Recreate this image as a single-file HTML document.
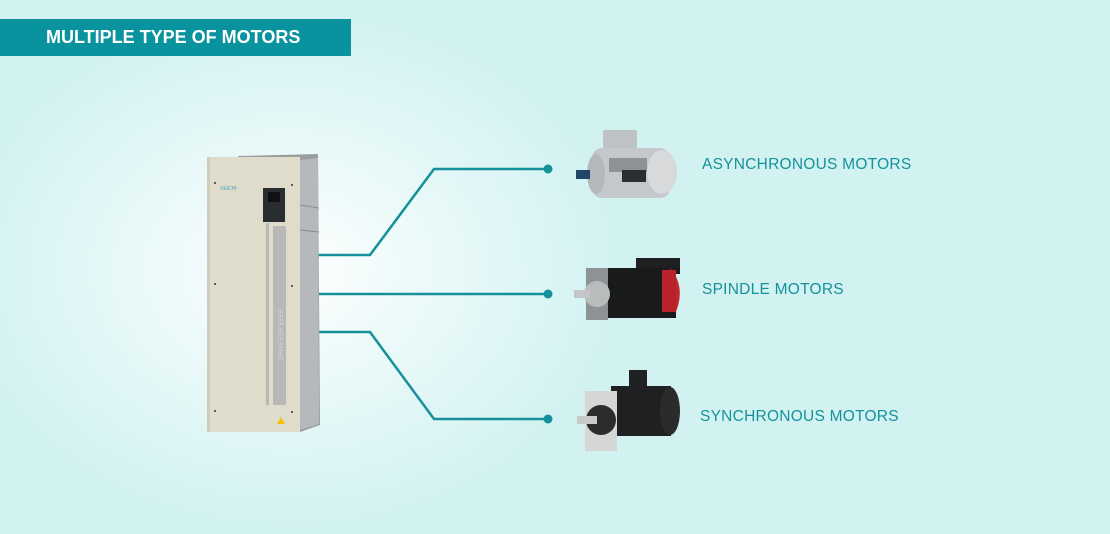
<!DOCTYPE html>
<html><head><meta charset="utf-8"><style>
html,body{margin:0;padding:0}
body{width:1110px;height:534px;overflow:hidden;position:relative;background:#d2f2f2;font-family:"Liberation Sans",sans-serif}
.glow{position:absolute;left:0;top:0;width:1110px;height:534px;background:radial-gradient(ellipse 330px 260px at 290px 270px,#ffffff 0%,#eefafa 35%,rgba(210,242,242,0) 100%)}
.banner{position:absolute;left:0;top:19px;width:351px;height:37px;background:#08939e;color:#fff;font-weight:bold;font-size:18px;line-height:37px;padding-left:46px;box-sizing:border-box;letter-spacing:0}
.lbl{position:absolute;color:#14929c;font-size:15.5px;letter-spacing:0.25px}
svg{position:absolute;left:0;top:0}
</style></head><body>
<div class="glow"></div>
<div class="banner">MULTIPLE TYPE OF MOTORS</div>
<svg width="1110" height="534">
<g stroke="#16909a" stroke-width="2.5" fill="none">
<polyline points="318,255 370,255 434,169 548,169"/>
<polyline points="318,294 548,294"/>
<polyline points="318,332 370,332 434,419 548,419"/>
</g>
<g fill="#16909a"><circle cx="548" cy="169" r="4.5"/><circle cx="548" cy="294" r="4.5"/><circle cx="548" cy="419" r="4.5"/></g>
<polygon points="238,156 318,154 320,425 300,432" fill="#9a9c9e"/>
<polygon points="300,160 318,158 319,424 300,430" fill="#b6b9bb"/>
<line x1="300" y1="205" x2="319" y2="208" stroke="#8b8e90"/>
<line x1="300" y1="230" x2="319" y2="232" stroke="#8b8e90"/>
<rect x="207" y="157" width="93" height="275" fill="#e0dccb"/>
<rect x="207" y="157" width="3" height="275" fill="#d1cdb9"/>
<text x="220" y="190" font-size="5" fill="#3ca7c4" font-family="Liberation Sans">VEICHI</text>
<rect x="263" y="188" width="22" height="34" fill="#2a2d30"/>
<rect x="268" y="192" width="12" height="10" fill="#101214"/>
<rect x="266" y="223" width="3" height="182" fill="#b8b8b6"/>
<rect x="273" y="226" width="13" height="179" fill="#b8b8b6"/>
<text x="283" y="360" font-size="6" fill="#d8d8d6" transform="rotate(-90 283 360)">DRIVE FOR EVER</text>
<polygon points="277,424 281,417 285,424" fill="#f2c400"/>
<g fill="#333"><circle cx="215" cy="183" r="1"/><circle cx="292" cy="185" r="1"/><circle cx="215" cy="284" r="1"/><circle cx="292" cy="286" r="1"/><circle cx="215" cy="411" r="1"/><circle cx="292" cy="412" r="1"/></g>
<rect x="603" y="130" width="34" height="18" rx="2" fill="#bfc2c4"/>
<rect x="592" y="148" width="78" height="50" rx="10" fill="#c5c8ca"/>
<ellipse cx="662" cy="172" rx="15" ry="22" fill="#d7d9da"/>
<rect x="609" y="158" width="38" height="14" fill="#8e9294"/>
<rect x="622" y="170" width="24" height="12" fill="#2b2e30"/>
<ellipse cx="596" cy="174" rx="9" ry="20" fill="#b4b8ba"/>
<rect x="576" y="170" width="14" height="9" fill="#23456a"/>
<rect x="636" y="258" width="44" height="16" fill="#1e1f20"/>
<rect x="592" y="268" width="84" height="50" fill="#191a1b"/>
<path d="M670 268 Q686 286 676 312 L668 312 Z" fill="#c1272d"/>
<rect x="662" y="270" width="14" height="42" fill="#b8232a"/>
<rect x="586" y="268" width="22" height="52" fill="#8f9294"/>
<circle cx="597" cy="294" r="13" fill="#b9bcbd"/>
<rect x="574" y="290" width="16" height="8" fill="#c4c6c7"/>
<rect x="629" y="370" width="18" height="18" fill="#202122"/>
<rect x="611" y="386" width="60" height="50" fill="#1f2021"/>
<ellipse cx="670" cy="411" rx="10" ry="24" fill="#2a2b2c"/>
<rect x="585" y="391" width="32" height="60" fill="#d5d6d6"/>
<circle cx="601" cy="420" r="15" fill="#2b2c2d"/>
<rect x="577" y="416" width="20" height="8" fill="#c8c9c9"/>
</svg>
<div class="lbl" style="left:702px;top:156px">ASYNCHRONOUS MOTORS</div>
<div class="lbl" style="left:702px;top:281px">SPINDLE MOTORS</div>
<div class="lbl" style="left:700px;top:408px">SYNCHRONOUS MOTORS</div>
</body></html>
